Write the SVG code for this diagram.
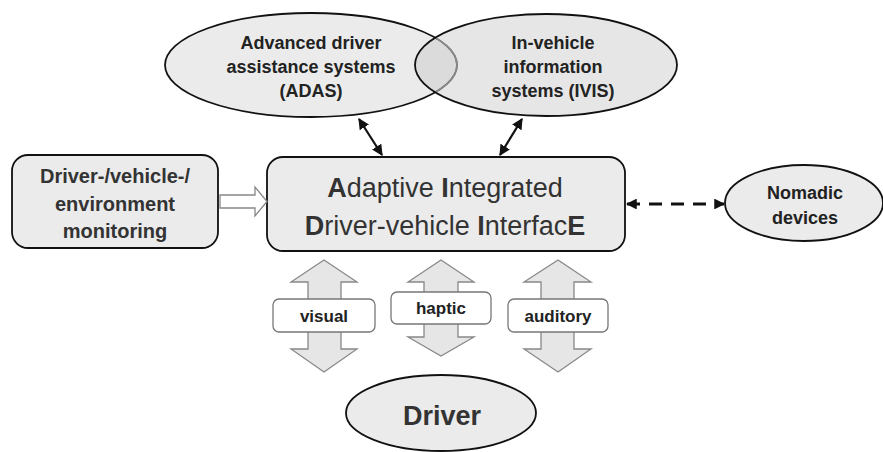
<svg xmlns="http://www.w3.org/2000/svg" width="883" height="452" viewBox="0 0 883 452">
  <style>
    .node { fill: #ebebeb; stroke: #111; stroke-width: 1.8; }
    .lbl { font-family: "Liberation Sans", Arial, sans-serif; font-weight: bold; fill: #222; text-anchor: middle; }
    .dark { fill: #333; }
    .big { font-family: "Liberation Sans", Arial, sans-serif; font-size: 27px; fill: #333; text-anchor: middle; }
    .big tspan.b { font-weight: bold; }
    .link { stroke: #111; stroke-width: 2.2; fill: none; }
    .dash { stroke: #111; stroke-width: 3; stroke-dasharray: 13 9; fill: none; }
    .block { fill: #e6e6e6; stroke: #888; stroke-width: 1.3; }
    .tag { fill: #fff; stroke: #777; stroke-width: 1.3; }
  </style>
  <defs>
    <marker id="head" viewBox="0 0 10 10" refX="9" refY="5" markerWidth="5" markerHeight="5" orient="auto-start-reverse">
      <path d="M0,0 L10,5 L0,10 Z" fill="#111"/>
    </marker>
    <marker id="headS" viewBox="0 0 10 10" refX="9" refY="5" markerWidth="3.6" markerHeight="3.6" orient="auto-start-reverse">
      <path d="M0,0 L10,5 L0,10 Z" fill="#111"/>
    </marker>
    <clipPath id="ivisClip"><ellipse cx="546" cy="65" rx="131" ry="51"/></clipPath>
  </defs>

  <rect width="883" height="452" fill="#fff"/>

  <!-- ADAS -->
  <g id="adas">
    <ellipse class="node" cx="311" cy="65" rx="146" ry="52"/>
    <text class="lbl" font-size="18" x="311" y="49">Advanced driver</text>
    <text class="lbl" font-size="18" x="311" y="73">assistance systems</text>
    <text class="lbl" font-size="18" x="311" y="97">(ADAS)</text>
  </g>

  <!-- IVIS, drawn translucent so the overlap darkens -->
  <g id="ivis">
    <ellipse cx="546" cy="65" rx="131" ry="51" fill="#c8c8c8" fill-opacity="0.45" stroke="none"/>
    <ellipse cx="311" cy="65" rx="146" ry="52" fill="none" stroke="#888" stroke-width="1.5" clip-path="url(#ivisClip)"/>
    <ellipse cx="546" cy="65" rx="131" ry="51" fill="none" stroke="#111" stroke-width="1.8"/>
    <text class="lbl" font-size="18" x="553" y="49">In-vehicle</text>
    <text class="lbl" font-size="18" x="553" y="73">information</text>
    <text class="lbl" font-size="18" x="553" y="97">systems (IVIS)</text>
  </g>

  <!-- monitoring -->
  <g id="monitoring">
    <rect class="node" x="12" y="155" width="206" height="93" rx="16"/>
    <text class="lbl dark" font-size="20" x="115" y="183">Driver-/vehicle-/</text>
    <text class="lbl dark" font-size="20" x="115" y="211">environment</text>
    <text class="lbl dark" font-size="20" x="115" y="238">monitoring</text>
  </g>

  <!-- AIDE -->
  <g id="aide">
    <rect class="node" x="267" y="157" width="358" height="94" rx="16"/>
    <text class="big" x="445" y="197"><tspan class="b">A</tspan>daptive <tspan class="b">I</tspan>ntegrated</text>
    <text class="big" x="445" y="235"><tspan class="b">D</tspan>river-vehicle <tspan class="b">I</tspan>nterfac<tspan class="b">E</tspan></text>
  </g>

  <!-- Nomadic -->
  <g id="nomadic">
    <ellipse class="node" cx="804" cy="203" rx="79" ry="38"/>
    <text class="lbl" font-size="18" x="805" y="199">Nomadic</text>
    <text class="lbl" font-size="18" x="805" y="224">devices</text>
  </g>

  <!-- Driver -->
  <g id="driver">
    <ellipse class="node" cx="441" cy="413" rx="95" ry="38"/>
    <text class="lbl dark" font-size="27" x="442" y="425">Driver</text>
  </g>

  <!-- connectors -->
  <g id="connectors">
    <line class="link" x1="382" y1="155" x2="359" y2="119" marker-start="url(#head)" marker-end="url(#head)"/>
    <line class="link" x1="500" y1="155" x2="522" y2="119" marker-start="url(#head)" marker-end="url(#head)"/>
    <line class="dash" x1="627" y1="204" x2="724" y2="204" marker-start="url(#headS)" marker-end="url(#headS)"/>
    <!-- hollow arrow into AIDE -->
    <path d="M220,195 L255,195 L255,187 L267,201.5 L255,216 L255,208 L220,208 Z" fill="#fff" stroke="#888" stroke-width="1.3"/>

    <!-- modality channels -->
    <g id="visual">
      <path class="block" d="M324,260 L357,282 L341,282 L341,349 L357,349 L324,372 L291,349 L308,349 L308,282 L291,282 Z"/>
      <rect class="tag" x="273" y="299" width="102" height="33" rx="6"/>
      <text class="lbl" font-size="17" x="324" y="322">visual</text>
    </g>
    <g id="haptic">
      <path class="block" d="M441,260 L474,282 L458,282 L458,337 L474,337 L441,356 L408,337 L424,337 L424,282 L408,282 Z"/>
      <rect class="tag" x="391" y="292" width="100" height="32" rx="6"/>
      <text class="lbl" font-size="17" x="441" y="314">haptic</text>
    </g>
    <g id="auditory">
      <path class="block" d="M558,260 L591,282 L574,282 L574,349 L591,349 L558,372 L524,349 L541,349 L541,282 L524,282 Z"/>
      <rect class="tag" x="508" y="299" width="100" height="33" rx="6"/>
      <text class="lbl" font-size="17" x="558" y="322">auditory</text>
    </g>
  </g>
</svg>
